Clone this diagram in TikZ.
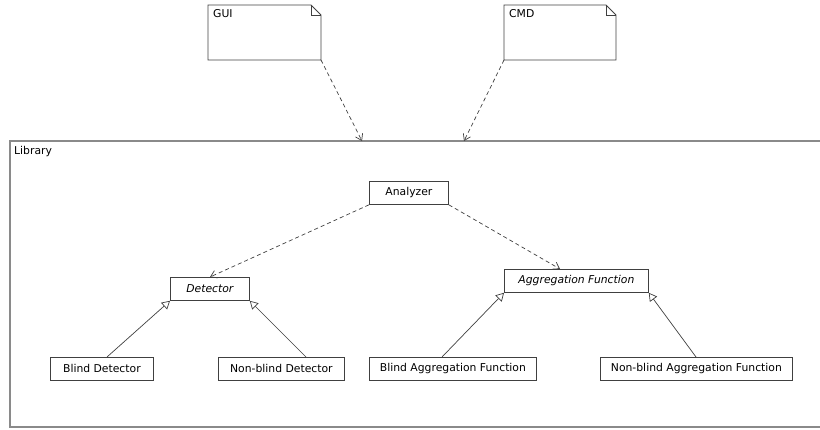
\documentclass[tikz,border=0pt]{standalone}
\usepackage{fontspec}
\setmainfont{DejaVu Sans}
\usetikzlibrary{arrows.meta}
\definecolor{ln}{HTML}{404040}
\definecolor{fr}{HTML}{8A8A8A}
\tikzset{
  cls/.style={draw=ln, line width=0.8pt, inner sep=0pt, anchor=north west, font=\fontsize{10.8}{12}\selectfont},
  lbl/.style={anchor=north west, inner sep=0pt, font=\fontsize{10.8}{12}\selectfont},
  dep/.style={draw=ln, line width=0.7pt, dash pattern=on 4pt off 3pt, -{Straight Barb[length=6pt,width=8pt]}},
  gen/.style={draw=ln, line width=0.7pt, -{Triangle[open,length=8pt,width=9pt,fill=white]}}
}
\begin{document}
\begin{tikzpicture}[x=1pt,y=-1pt]
\useasboundingbox (0,0) rectangle (820,429);
\clip (0,0) rectangle (820,429);
% Library frame
\draw[fr, line width=1.4pt] (10,141) rectangle (830,427);
\node[lbl] (libl) at (14,146) {Library};
\coordinate (libtopA) at (362,141);
\coordinate (libtopB) at (464,141);
% notes
\draw[ln, line width=0.8pt] (208,5) -- (311,5) -- (321,15) -- (321,60) -- (208,60) -- cycle;
\draw[ln, line width=0.6pt] (311,5) -- (311,15) -- (321,15);
\node[lbl] (guil) at (213,9) {GUI};
\coordinate (guiC) at (321,60);
\draw[ln, line width=0.8pt] (504,5) -- (606,5) -- (616,15) -- (616,60) -- (504,60) -- cycle;
\draw[ln, line width=0.6pt] (606,5) -- (606,15) -- (616,15);
\node[lbl] (cmdl) at (509,9) {CMD};
\coordinate (cmdC) at (504,60);
\draw[dep] (guiC) -- (libtopA);
\draw[dep] (cmdC) -- (libtopB);
% classes
\node[cls, minimum width=79pt, minimum height=23pt] (an) at (369,181) {Analyzer};
\node[cls, minimum width=79pt, minimum height=23pt] (det) at (170,277) {\itshape Detector};
\node[cls, minimum width=144pt, minimum height=23pt] (agg) at (504,269) {\itshape Aggregation Function};
\node[cls, minimum width=103pt, minimum height=23pt] (bd) at (50,357) {Blind Detector};
\node[cls, minimum width=126pt, minimum height=23pt] (nbd) at (218,357) {Non-blind Detector};
\node[cls, minimum width=167pt, minimum height=23pt] (ba) at (369,357) {Blind Aggregation Function};
\node[cls, minimum width=192pt, minimum height=23pt] (nba) at (600,357) {Non-blind Aggregation Function};
% dependencies
\draw[dep] (an.south west) -- ([xshift=40pt]det.north west);
\draw[dep] (an.south east) -- ([xshift=56pt]agg.north west);
% generalizations
\draw[gen] ([xshift=57pt]bd.north west) -- (det.south west);
\draw[gen] ([xshift=88pt]nbd.north west) -- (det.south east);
\draw[gen] ([xshift=73pt]ba.north west) -- (agg.south west);
\draw[gen] ([xshift=96pt]nba.north west) -- (agg.south east);
\end{tikzpicture}
\end{document}
